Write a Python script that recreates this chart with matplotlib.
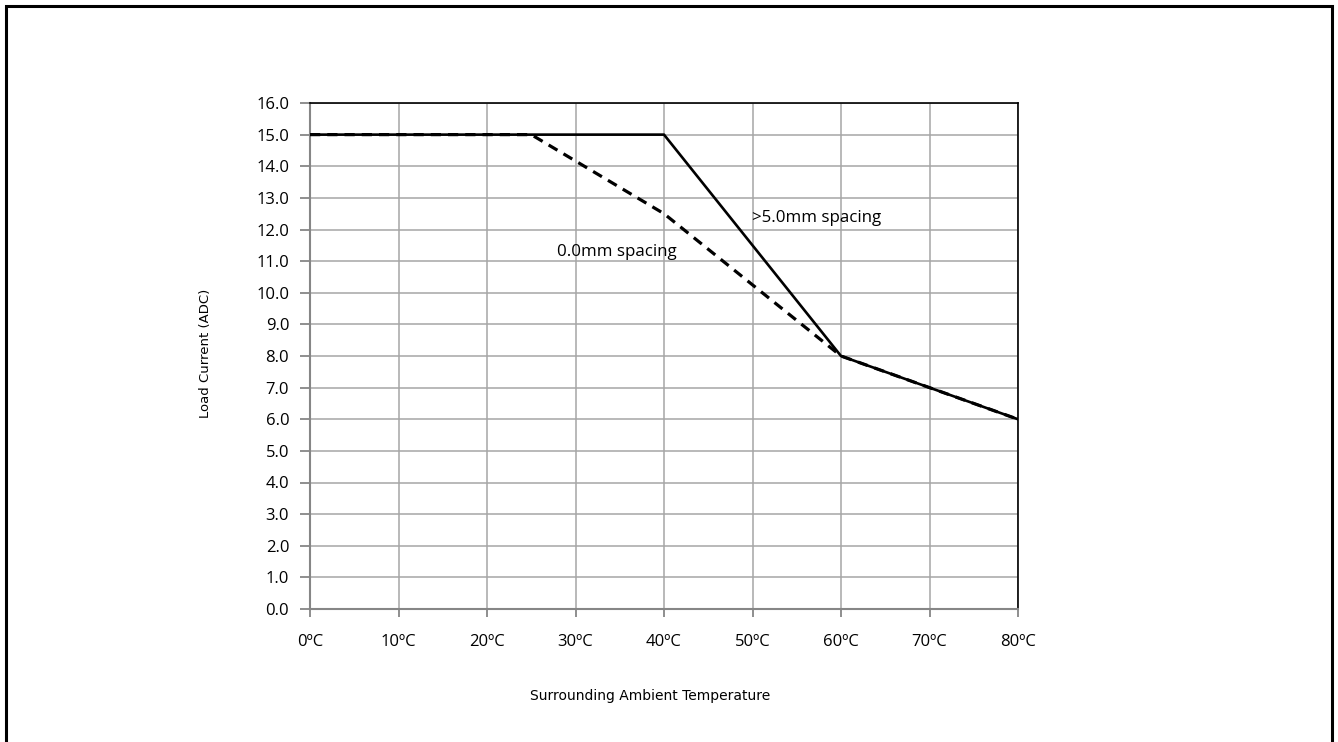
import matplotlib.pyplot as plt
from matplotlib.patches import Rectangle

# derating curves
temps_wide = [0, 40, 60, 80]
current_wide = [15.0, 15.0, 8.0, 6.0]
temps_tight = [0, 25, 40, 60, 80]
current_tight = [15.0, 15.0, 12.5, 8.0, 6.0]

x_ticks = [0, 10, 20, 30, 40, 50, 60, 70, 80]
x_labels = [f"{t}ºC" for t in x_ticks]
y_ticks = [i * 1.0 for i in range(17)]

LABEL_FONT = "Open Sans"

fig = plt.figure(figsize=(13.38, 7.42), dpi=100)
ax = fig.add_axes([310 / 1338, 1 - 609 / 742, 708 / 1338, 506 / 742])

# outer chart frame
fig.patches.append(Rectangle((6 / 1338, -0.05), 1326 / 1338, 1.05 - 6 / 742,
                             transform=fig.transFigure, fill=False,
                             edgecolor="black", linewidth=2.2))

ax.plot(temps_tight, current_tight, color="black", linewidth=2.3,
        linestyle=(0, (3.2, 2.2)), zorder=3)
ax.plot(temps_wide, current_wide, color="black", linewidth=1.9, zorder=4)

ax.set_xlim(0, 80)
ax.set_ylim(0, 16)
ax.set_xticks(x_ticks)
ax.set_xticklabels(x_labels)
ax.set_yticks(y_ticks)
ax.set_yticklabels([f"{v:.1f}" for v in y_ticks])
ax.grid(True, color="#a6a6a6", linewidth=1.1)
ax.set_axisbelow(True)

for lab in ax.get_xticklabels() + ax.get_yticklabels():
    lab.set_fontfamily(LABEL_FONT)
    lab.set_fontsize(12)
ax.tick_params(axis="x", length=6, width=1.3, color="#868686", pad=12)
ax.tick_params(axis="y", length=7, width=1.3, color="#868686", pad=8)

ax.spines["left"].set_color("#868686")
ax.spines["bottom"].set_color("#868686")
ax.spines["left"].set_linewidth(1.5)
ax.spines["bottom"].set_linewidth(1.5)
ax.spines["top"].set_color("black")
ax.spines["right"].set_color("black")
ax.spines["top"].set_linewidth(1.2)
ax.spines["right"].set_linewidth(1.2)

ax.text(27.9, 11.3, "0.0mm spacing", fontfamily=LABEL_FONT, fontsize=12.2,
        va="center", ha="left")
ax.text(50.0, 12.35, ">5.0mm spacing", fontfamily=LABEL_FONT, fontsize=12.2,
        va="center", ha="left")

fig.text(650 / 1338, 1 - 696 / 742, "Surrounding Ambient Temperature",
         fontfamily="DejaVu Sans", fontsize=10, ha="center", va="center")
fig.text(205 / 1338, 1 - 353 / 742, "Load Current (ADC)",
         fontfamily="DejaVu Sans", fontsize=9.5, ha="center", va="center",
         rotation=90)

fig.savefig("out.png", dpi=100)
